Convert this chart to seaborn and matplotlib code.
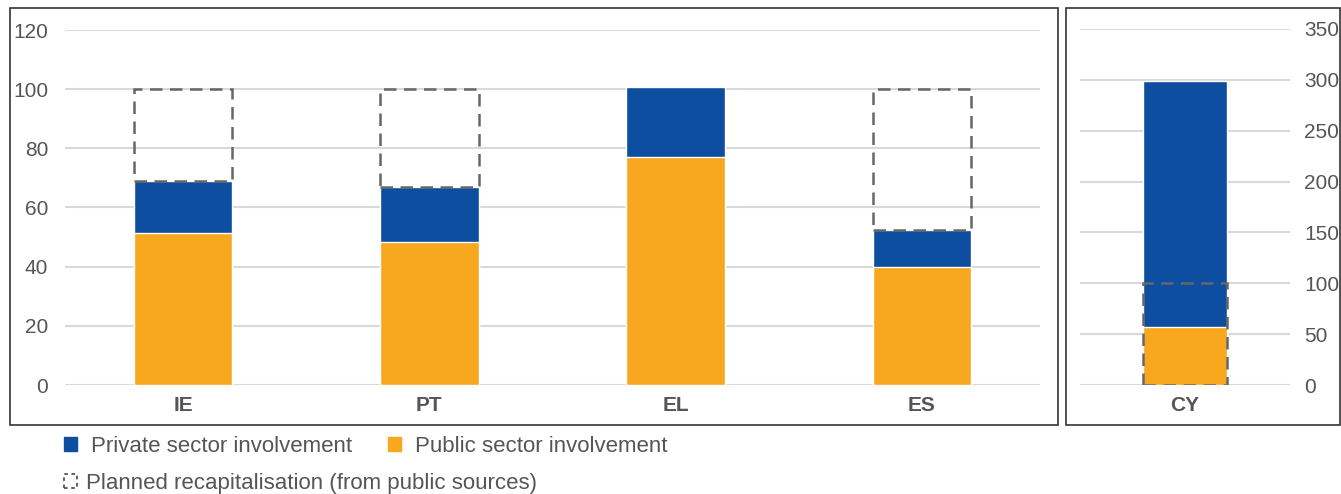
import matplotlib.pyplot as plt
import matplotlib.patches as mpatches
import seaborn as sns
import pandas as pd

sns.set_theme(style="white")
plt.rcParams['font.family'] = ['Liberation Sans', 'DejaVu Sans']

countries = ['IE', 'PT', 'EL', 'ES']
public = [51.5, 48.5, 77.0, 40.0]
private = [17.5, 18.5, 23.8, 12.5]
planned = [100, 100, None, 100]

cy_country = ['CY']
cy_public = [57]
cy_private = [242]
cy_planned = [100]

BLUE = '#0d4ea0'
ORANGE = '#f8a81e'
GREY = '#555555'
GRID = '#d9d9d9'

df = pd.DataFrame({'country': countries, 'public': public, 'private': private, 'planned': planned})
df['total'] = df['public'] + df['private']
cy = pd.DataFrame({'country': cy_country, 'public': cy_public, 'private': cy_private, 'planned': cy_planned})
cy['total'] = cy['public'] + cy['private']

fig = plt.figure(figsize=(13.41, 4.94), dpi=100)
ax = fig.add_axes([65 / 1341, 109 / 494, 975 / 1341, 355 / 494])
ax2 = fig.add_axes([1080 / 1341, 109 / 494, 210 / 1341, 356 / 494])


def style(a, ymax, step, right=False):
    a.set_ylim(0, ymax)
    a.set_yticks(range(0, ymax + 1, step))
    a.yaxis.grid(True, color=GRID, lw=1.5)
    a.set_axisbelow(True)
    for s in a.spines.values():
        s.set_visible(False)
    a.set_xlabel('')
    a.set_ylabel('')
    a.tick_params(axis='y', length=0, labelsize=15, labelcolor=GREY, pad=10 if right else 12)
    a.tick_params(axis='x', length=0, labelsize=15, labelcolor=GREY, pad=8)
    for t in a.get_xticklabels():
        t.set_fontweight('bold')
    if right:
        a.yaxis.tick_right()


# left panel: stacked bars
sns.barplot(data=df, x='country', y='total', color=BLUE, width=0.4, saturation=1, ax=ax)
sns.barplot(data=df, x='country', y='public', color=ORANGE, width=0.4, saturation=1, ax=ax)
gap = df.dropna(subset=['planned'])
ax.bar(gap.index, gap['planned'] - gap['total'], bottom=gap['total'], width=0.4,
       fill=False, edgecolor='#666666', lw=1.8, ls=(0, (5, 3)), zorder=5)
ax.set_xlim(-0.48, 3.48)
style(ax, 120, 20)

# right panel: CY
sns.barplot(data=cy, x='country', y='total', color=BLUE, width=0.4, saturation=1, ax=ax2)
sns.barplot(data=cy, x='country', y='public', color=ORANGE, width=0.4, saturation=1, ax=ax2)
ax2.bar(cy.index, cy['planned'], width=0.4, fill=False, edgecolor='#666666',
        lw=1.8, ls=(0, (5, 3)), zorder=5)
ax2.set_xlim(-0.5, 0.5)
style(ax2, 350, 50, right=True)

# panel frames
for x0, x1 in [(10, 1058), (1066, 1340)]:
    fig.patches.append(mpatches.Rectangle((x0 / 1341, 69 / 494), (x1 - x0) / 1341, 417 / 494,
                                          transform=fig.transFigure, fill=False,
                                          edgecolor='#333333', lw=1.2))

# legend
h1 = [mpatches.Patch(color=BLUE, label='Private sector involvement'),
      mpatches.Patch(color=ORANGE, label='Public sector involvement')]
fig.legend(handles=h1, loc='center left', bbox_to_anchor=(44 / 1341, 1 - 446 / 494),
           ncol=2, frameon=False, fontsize=16, handlelength=0.58, handleheight=0.58,
           handletextpad=0.65, columnspacing=1.6, labelcolor=GREY)
h2 = [mpatches.Patch(fill=False, edgecolor=GREY, lw=1.3, ls=(0, (2, 2)),
                     label='Planned recapitalisation (from public sources)')]
fig.legend(handles=h2, loc='center left', bbox_to_anchor=(44 / 1341, 1 - 483 / 494),
           frameon=False, fontsize=16, handlelength=0.58, handleheight=0.58,
           handletextpad=0.4, labelcolor=GREY)

fig.savefig('out.png', dpi=100)
